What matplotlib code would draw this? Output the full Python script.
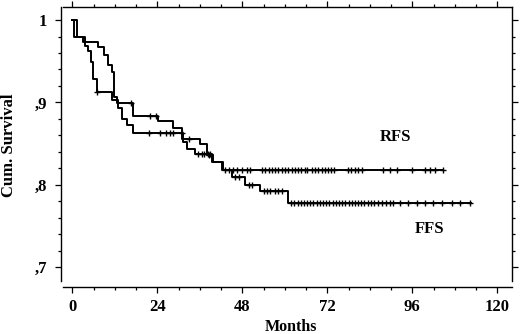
import numpy as np
import matplotlib
matplotlib.use("Agg")
import matplotlib.pyplot as plt
from matplotlib.ticker import MultipleLocator, FixedLocator

# =========================
# Kaplan-Meier data
# =========================

# RFS: event times (months) and survival after each event
rfs_times = [0, 1.4, 3.1, 7.3, 9.0, 10.2, 11.1, 11.9, 12.7, 17.0, 24.3,
             28.5, 30.9, 36.1, 37.9, 39.8, 42.2]
rfs_surv = [1.0, 0.979, 0.973, 0.967, 0.957, 0.945, 0.937, 0.907, 0.899,
            0.883, 0.877, 0.869, 0.856, 0.849, 0.836, 0.828, 0.818]
rfs_end = 104.7
rfs_censor = [16.5, 21.9, 23.5, 33.0, 38.5, 43.1, 44.3, 45.5, 46.6, 47.8,
              49.2, 50.3, 53.5, 54.4, 55.4, 56.3, 57.2, 58.2, 59.1, 60.1,
              61.0, 62.0, 62.9, 63.8, 64.7, 65.6, 66.4, 67.7, 68.6, 69.5,
              70.4, 71.3, 72.2, 73.1, 74.0, 77.8, 78.8, 79.8, 80.8, 81.8,
              87.8, 89.7, 91.6, 95.8, 99.6, 101.0, 102.4, 104.6]

# FFS
ffs_times = [0, 0.5, 3.6, 4.5, 5.3, 5.9, 6.9, 11.3, 13.0, 13.9, 15.4,
             17.1, 31.3, 32.5, 34.6, 39.4, 42.5, 45.0, 48.8, 53.0, 61.0]
ffs_surv = [1.0, 0.979, 0.969, 0.963, 0.949, 0.929, 0.913, 0.903, 0.893,
            0.880, 0.873, 0.863, 0.852, 0.844, 0.838, 0.828, 0.818, 0.810,
            0.800, 0.792, 0.778]
ffs_end = 112.6
ffs_censor = [6.9, 21.7, 24.8, 26.4, 27.6, 28.5, 30.9, 35.5, 36.5, 37.3,
              38.2, 39.0, 46.0, 47.2, 49.8, 50.8, 54.0, 54.9, 55.8, 57.2,
              58.2, 59.1, 61.8, 62.7, 63.6, 64.5, 65.4, 66.3, 67.2, 68.1,
              69.0, 69.9, 70.8, 71.7, 72.6, 73.5, 74.4, 75.3, 76.2, 77.1,
              78.0, 78.9, 79.8, 80.7, 81.6, 82.5, 83.4, 84.3, 85.2, 86.4,
              87.4, 88.6, 89.7, 90.6, 92.5, 94.9, 97.2, 99.6, 101.9, 104.3,
              107.1, 109.5, 112.3]

x_ticks = [0, 24, 48, 72, 96, 120]
y_ticks = [0.7, 0.8, 0.9, 1.0]
y_tick_labels = [",7", ",8", ",9", "1"]

FONT = "Liberation Serif"


def plot_curve(ax, times, surv, end, censor):
    """
    画阶梯生存曲线 + 删失标记
    """
    t = list(times) + [end]
    s = list(surv) + [surv[-1]]
    ax.plot(t, s, drawstyle="steps-post", color="black", lw=1.4)

    idx = np.searchsorted(times, censor, side="right") - 1
    cy = np.asarray(surv)[idx]
    ax.plot(censor, cy, ls="none", marker="+", ms=5, mew=1.0,
            color="black")


def main():

    fig = plt.figure(figsize=(5.2, 3.34), dpi=100)
    ax = fig.add_axes([63 / 520, 1 - 281 / 334, 449 / 520, 274 / 334])

    plot_curve(ax, rfs_times, rfs_surv, rfs_end, rfs_censor)
    plot_curve(ax, ffs_times, ffs_surv, ffs_end, ffs_censor)

    ax.set_xlim(-2.63, 124.15)
    ax.set_ylim(0.6834, 1.0158)

    # 坐标轴样式
    ax.spines["left"].set_position(("outward", 1.5))
    ax.spines["bottom"].set_position(("outward", 4.3))
    for sp in ax.spines.values():
        sp.set_linewidth(1.0)

    ax.xaxis.set_major_locator(FixedLocator(x_ticks))
    ax.xaxis.set_minor_locator(MultipleLocator(6))
    ax.yaxis.set_major_locator(FixedLocator(y_ticks))
    ax.yaxis.set_minor_locator(MultipleLocator(0.02))
    ax.set_yticklabels(y_tick_labels)

    ax.tick_params(which="both", direction="out", top=True, right=True,
                   width=0.9)
    ax.tick_params(which="major", length=4)
    ax.tick_params(which="minor", length=2)
    ax.tick_params(axis="x", pad=5)
    ax.tick_params(axis="y", pad=6)

    for lab in ax.get_xticklabels() + ax.get_yticklabels():
        lab.set_fontfamily(FONT)
        lab.set_fontweight("bold")
        lab.set_fontsize(12)

    # 轴标题
    fig.text(291 / 520, 1 - 327 / 334, "Months", fontfamily=FONT,
             fontweight="bold", fontsize=11.5, ha="center", va="center")
    fig.text(9 / 520, 1 - 145 / 334, "Cum. Survival", fontfamily=FONT,
             fontweight="bold", fontsize=12, ha="center", va="center",
             rotation=90)

    ax.text(91.4, 0.858, "RFS", fontfamily=FONT, fontweight="bold",
            fontsize=12, ha="center", va="center")
    ax.text(101.0, 0.7465, "FFS", fontfamily=FONT, fontweight="bold",
            fontsize=12, ha="center", va="center")

    fig.savefig("out.png", dpi=100)


main()
